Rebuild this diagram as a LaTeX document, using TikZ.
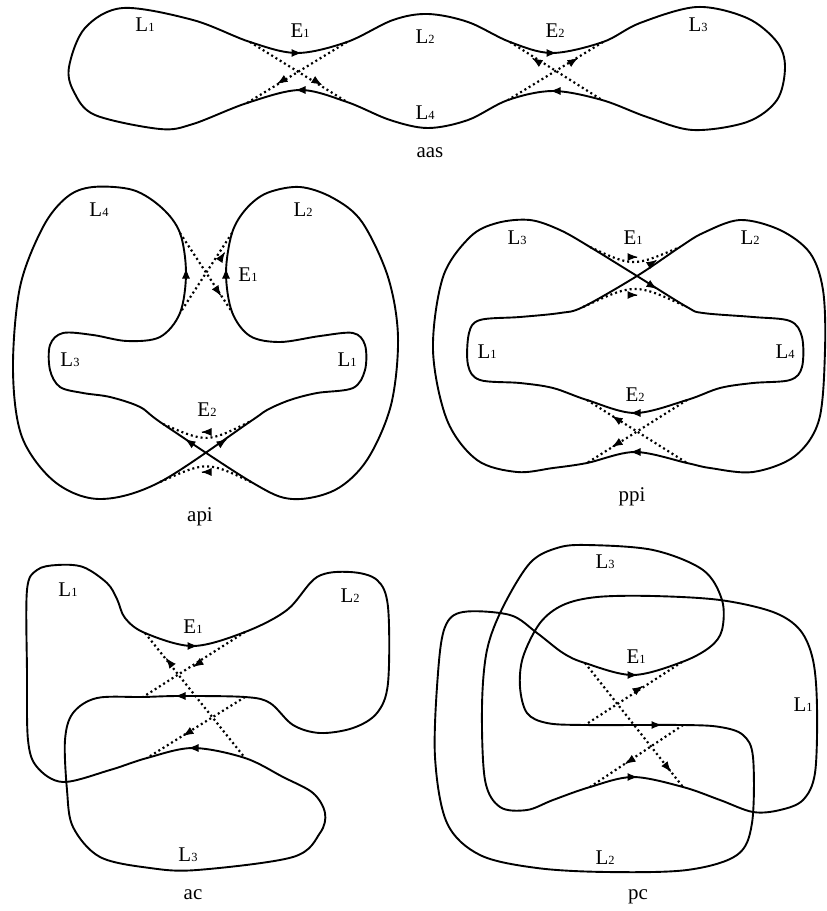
\documentclass[tikz,border=0pt]{standalone}
\usepackage{fontspec}
\setmainfont{Liberation Serif}
\usetikzlibrary{arrows.meta,calc}
\newcommand\Lb[2]{#1{\fontsize{12.5}{12.5}\selectfont #2}}
\newcommand\tp[4]{\draw[tipst] ($(#1,#2)-(#3,#4)$) -- (#1,#2);}
\begin{document}
\begin{tikzpicture}[x=1bp,y=-1bp,
  curve/.style={line width=1.9bp,line join=round},
  dotln/.style={line width=2.2bp,dash pattern=on 2bp off 3bp},
  tipst/.style={line width=1bp,-{Latex[length=10.5bp,width=8bp]}},
  lbl/.style={font=\fontsize{21}{21}\selectfont,inner sep=0pt}]
\useasboundingbox (0,0) rectangle (827,911);

% ---------------- aas ----------------
\draw[curve] plot[smooth cycle,tension=0.55] coordinates {(69,67) (85,28) (123,8) (193,20) (250,42) (297,53) (347,42) (393,20) (428,14) (468,22) (510,42) (552,53) (603,42) (640,23) (697,7) (747,18) (777,42) (785,67) (777,100) (747,122) (693,130) (647,117) (602,100) (553,91) (508,100) (468,120) (428,128) (390,120) (347,102) (300,90) (247,103) (193,124) (160,129) (95,115) (74,92)};
\draw[dotln] (250,42) -- (347,102);
\draw[dotln] (347,42) -- (247,103);
\draw[dotln] (510,42) -- (602,100);
\draw[dotln] (603,42) -- (508,100);
\tp{322}{85}{0.85}{0.53}
\tp{277}{84}{-0.85}{0.53}
\tp{302}{53}{1}{0}
\tp{295}{90}{-1}{0}
\tp{532}{58}{-0.85}{-0.53}
\tp{578}{58}{0.85}{-0.53}
\tp{557}{53}{1}{0}
\tp{550}{91}{-1}{0}
\node[lbl] (aL1) at (145,25) {\Lb{L}{1}};
\node[lbl] (aE1) at (300,31) {\Lb{E}{1}};
\node[lbl] (aL2) at (425,37) {\Lb{L}{2}};
\node[lbl] (aL4) at (425,113) {\Lb{L}{4}};
\node[lbl] (aE2) at (555,31) {\Lb{E}{2}};
\node[lbl] (aL3) at (698,25) {\Lb{L}{3}};
\node[lbl] (aas) at (430,153) {aas};

% ---------------- api ----------------
\draw[curve] plot[smooth cycle,tension=0.55] coordinates {(100,499) (55,482) (22,437) (13,370) (20,287) (43,227) (67,197) (93,187) (133,190) (162,208) (180,233) (186,273) (180,313) (160,337) (127,341) (93,335) (63,333) (50,345) (50,370) (60,387) (83,393) (110,397) (140,407) (163,424) (253,483) (292,499) (335,490) (367,460) (391,405) (398,337) (388,277) (362,222) (333,198) (300,187) (267,193) (246,209) (232,233) (226,273) (232,312) (250,336) (280,342) (320,336) (353,333) (365,345) (365,370) (353,388) (317,393) (290,400) (267,410) (251,421) (160,482)};
\draw[dotln] (180,233) -- (232,312);
\draw[dotln] (232,233) -- (180,313);
\draw[dotln] (163,424) .. controls (207,443) .. (251,421);
\draw[dotln] (160,482) .. controls (207,461) .. (253,483);
\tp{225}{252}{0.55}{-0.83}
\tp{221}{296}{0.55}{0.83}
\tp{186}{268}{0}{-1}
\tp{226}{268}{0}{-1}
\tp{201}{432}{-1}{0}
\tp{201}{472}{-1}{0}
\tp{185}{439}{-0.83}{-0.56}
\tp{227}{439}{0.83}{-0.56}
\node[lbl] (pL4) at (99,210) {\Lb{L}{4}};
\node[lbl] (pL2) at (303,210) {\Lb{L}{2}};
\node[lbl] (pE1) at (248,275) {\Lb{E}{1}};
\node[lbl] (pL3) at (70,360) {\Lb{L}{3}};
\node[lbl] (pL1) at (347,360) {\Lb{L}{1}};
\node[lbl] (pE2) at (207,410) {\Lb{E}{2}};
\node[lbl] (api) at (200,517) {api};

% ---------------- ppi ----------------
\draw[curve] plot[smooth cycle,tension=0.55] coordinates {(530,220) (560,230) (590,247) (637,276) (687,307) (703,313) (753,317) (790,321) (802,337) (802,367) (790,380) (753,383) (720,388) (687,400) (635,413) (587,400) (553,388) (520,383) (480,380) (468,365) (469,333) (480,320) (520,317) (560,313) (583,307) (637,276) (680,247) (703,233) (740,220) (780,230) (810,253) (823,290) (825,350) (819,420) (795,456) (753,472) (710,468) (687,463) (635,452) (587,463) (553,468) (517,472) (477,460) (447,420) (433,350) (443,277) (470,237) (497,223)};
\draw[dotln] (590,247) .. controls (633,267) .. (680,247);
\draw[dotln] (583,307) .. controls (635,283) .. (687,307);
\draw[dotln] (587,400) -- (687,463);
\draw[dotln] (687,400) -- (587,463);
\tp{638}{257}{1}{0}
\tp{638}{295}{1}{0}
\tp{657}{260}{0.85}{-0.53}
\tp{657}{289}{0.85}{0.53}
\tp{630}{413}{-1}{0}
\tp{630}{452}{-1}{0}
\tp{612}{416}{-0.85}{-0.53}
\tp{612}{447}{-0.85}{0.53}
\node[lbl] (qL3) at (517,238) {\Lb{L}{3}};
\node[lbl] (qE1) at (633,238) {\Lb{E}{1}};
\node[lbl] (qL2) at (750,238) {\Lb{L}{2}};
\node[lbl] (qL1) at (487,352) {\Lb{L}{1}};
\node[lbl] (qL4) at (785,352) {\Lb{L}{4}};
\node[lbl] (qE2) at (635,395) {\Lb{E}{2}};
\node[lbl] (ppi) at (632,497) {ppi};

% ---------------- ac ----------------
\draw[curve] plot[smooth cycle,tension=0.55] coordinates {(57,565) (83,567) (107,583) (117,599) (125,618) (145,633) (193,646) (245,632) (287,610) (317,577) (350,572) (377,580) (388,607) (388,683) (377,713) (353,728) (320,733) (293,725) (270,703) (245,697) (180,696) (143,697) (97,698) (73,713) (65,740) (67,790) (73,827) (100,857) (150,868) (197,870) (293,857) (320,833) (325,813) (313,793) (283,777) (245,758) (193,748) (147,758) (110,770) (63,782) (37,767) (28,740) (27,673) (27,590) (37,570)};
\draw[dotln] (145,633) -- (245,758);
\draw[dotln] (245,632) -- (143,697);
\draw[dotln] (245,697) -- (147,758);
\tp{166}{658}{-0.62}{-0.78}
\tp{193}{667}{-0.84}{0.54}
\tp{183}{736}{-0.85}{0.53}
\tp{198}{646}{1}{0}
\tp{175}{696}{-1}{0}
\tp{188}{748}{-1}{0}
\node[lbl] (cL1) at (68,590) {\Lb{L}{1}};
\node[lbl] (cE1) at (193,627) {\Lb{E}{1}};
\node[lbl] (cL2) at (350,596) {\Lb{L}{2}};
\node[lbl] (cL3) at (188,855) {\Lb{L}{3}};
\node[lbl] (ac) at (193,895) {ac};

% ---------------- pc ----------------
\draw[curve] plot[smooth cycle,tension=0.55] coordinates {(587,545) (653,550) (703,570) (722,600) (722,630) (710,647) (682,662) (633,675) (585,663) (563,653) (537,633) (510,615) (463,612) (445,627) (438,673) (435,757) (447,823) (480,855) (537,868) (607,872) (687,870) (737,855) (752,823) (753,757) (743,735) (720,727) (683,725) (585,725) (547,723) (527,713) (520,687) (523,657) (540,623) (563,605) (597,597) (653,596) (720,600) (773,612) (800,630) (813,660) (817,707) (815,773) (803,800) (780,810) (753,812) (720,800) (683,787) (633,777) (590,787) (553,800) (527,810) (500,807) (485,780) (482,707) (487,650) (503,607) (530,563) (557,548)};
\draw[dotln] (585,663) -- (683,787);
\draw[dotln] (682,662) -- (585,725);
\draw[dotln] (683,725) -- (590,787);
\tp{671}{772}{0.62}{0.79}
\tp{643}{686}{0.84}{-0.55}
\tp{625}{764}{-0.84}{0.54}
\tp{638}{675}{1}{0}
\tp{662}{725}{1}{0}
\tp{638}{777}{1}{0}
\node[lbl] (dL3) at (605,562) {\Lb{L}{3}};
\node[lbl] (dE1) at (636,657) {\Lb{E}{1}};
\node[lbl] (dL1) at (803,705) {\Lb{L}{1}};
\node[lbl] (dL2) at (605,858) {\Lb{L}{2}};
\node[lbl] (pc) at (638,897) {pc};
\end{tikzpicture}
\end{document}
